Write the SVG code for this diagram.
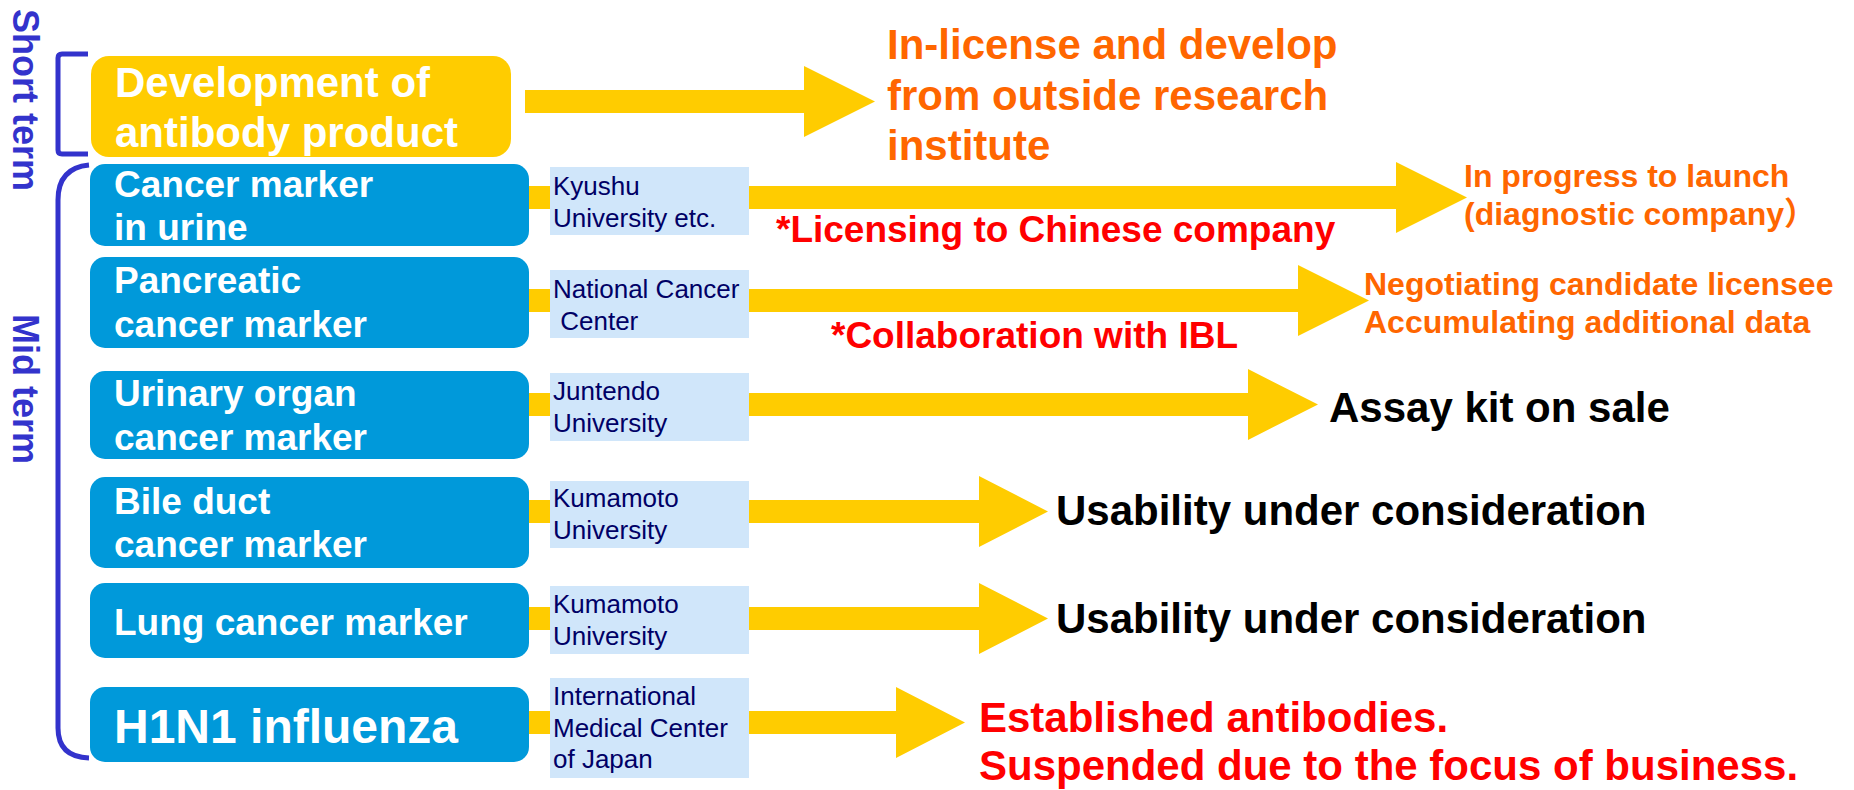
<svg xmlns="http://www.w3.org/2000/svg" width="1854" height="790" viewBox="0 0 1854 790">
<style>
text{font-family:"Liberation Sans",Arial,sans-serif}
.term{font-size:36px;font-weight:bold;fill:#3333CC}
.brk{fill:none;stroke:#3333CC;stroke-width:5}
.dev{fill:#FFCC00}
.blue{fill:#0099DA}
.lb{fill:#D0E6FA}
.wt{fill:#fff;font-weight:bold;font-size:37px}
.inst{fill:#000066;font-size:26px}
.arr{fill:#FFCC00}
.or{fill:#FF6600;font-weight:bold}
.rd{fill:#FF0000;font-weight:bold}
.bk{fill:#000;font-weight:bold;font-size:42px}
</style>
<rect width="1854" height="790" fill="#fff"/>
<g id="labels">
<text class="term" transform="translate(13,100) rotate(90)" text-anchor="middle">Short term</text>
<text class="term" transform="translate(13,389) rotate(90)" text-anchor="middle">Mid term</text>
<path class="brk" d="M88 54 L62 54 Q58 54 58 58 L58 150 Q58 154 62 154 L88 154"/>
<path class="brk" d="M89 165 Q58 168 58 200 L58 728 Q58 757 89 758"/>
</g>
<g id="connectors">
<polygon class="arr" points="525,90 804,90 804,66 875,101.5 804,137 804,113 525,113"/>
<polygon class="arr" points="510,186 1396,186 1396,162 1467,197.5 1396,233 1396,209 510,209"/>
<polygon class="arr" points="510,289 1298,289 1298,265 1369,300.5 1298,336 1298,312 510,312"/>
<polygon class="arr" points="510,393 1248,393 1248,369 1318,404.5 1248,440 1248,416 510,416"/>
<polygon class="arr" points="510,500 979,500 979,476 1048,511.5 979,547 979,523 510,523"/>
<polygon class="arr" points="510,607 979,607 979,583 1048,618.5 979,654 979,630 510,630"/>
<polygon class="arr" points="510,711 896,711 896,687 965,722.5 896,758 896,734 510,734"/>
</g>
<g id="dev">
<rect class="dev" x="91" y="56" width="420" height="101" rx="18"/>
<text class="wt" style="font-size:42px" x="115" y="97">Development of</text>
<text class="wt" style="font-size:42px" x="115" y="147">antibody product</text>
</g>
<g id="dev-result">
<text class="or" style="font-size:42px" x="887" y="59">In-license and develop</text>
<text class="or" style="font-size:42px" x="887" y="109.5">from outside research</text>
<text class="or" style="font-size:42px" x="887" y="160">institute</text>
</g>
<g id="urine">
<rect class="blue" x="90" y="164" width="439" height="82" rx="15"/>
<text class="wt" x="114" y="197">Cancer marker</text>
<text class="wt" x="114" y="240">in urine</text>
</g>
<g id="kyushu">
<rect class="lb" x="550" y="167" width="199" height="68"/>
<text class="inst" x="553" y="195">Kyushu</text>
<text class="inst" x="553" y="227">University etc.</text>
</g>
<g id="urine-result">
<text class="rd" style="font-size:37px" x="776" y="242">*Licensing to Chinese company</text>
<text class="or" style="font-size:32px" x="1464" y="187">In progress to launch</text>
<text class="or" style="font-size:32px" x="1464" y="225">(diagnostic company<tspan font-family="'Noto Sans CJK JP',sans-serif">）</tspan></text>
</g>
<g id="pancreatic">
<rect class="blue" x="90" y="257" width="439" height="91" rx="15"/>
<text class="wt" x="114" y="293">Pancreatic</text>
<text class="wt" x="114" y="337">cancer marker</text>
</g>
<g id="ncc">
<rect class="lb" x="550" y="270" width="199" height="68"/>
<text class="inst" x="553" y="298">National Cancer</text>
<text class="inst" x="553" y="330" xml:space="preserve"> Center</text>
</g>
<g id="pancreatic-result">
<text class="rd" style="font-size:37px" x="831" y="348">*Collaboration with IBL</text>
<text class="or" style="font-size:32px" x="1364" y="295">Negotiating candidate licensee</text>
<text class="or" style="font-size:32px" x="1364" y="333">Accumulating additional data</text>
</g>
<g id="urinary">
<rect class="blue" x="90" y="371" width="439" height="88" rx="15"/>
<text class="wt" x="114" y="406">Urinary organ</text>
<text class="wt" x="114" y="450">cancer marker</text>
</g>
<g id="juntendo">
<rect class="lb" x="550" y="373" width="199" height="68"/>
<text class="inst" x="553" y="400">Juntendo</text>
<text class="inst" x="553" y="432">University</text>
</g>
<g id="urinary-result">
<text class="bk" x="1329" y="422">Assay kit on sale</text>
</g>
<g id="bile">
<rect class="blue" x="90" y="477" width="439" height="91" rx="15"/>
<text class="wt" x="114" y="514">Bile duct</text>
<text class="wt" x="114" y="557">cancer marker</text>
</g>
<g id="kumamoto1">
<rect class="lb" x="550" y="481" width="199" height="67"/>
<text class="inst" x="553" y="507">Kumamoto</text>
<text class="inst" x="553" y="539">University</text>
</g>
<g id="bile-result">
<text class="bk" x="1056" y="525">Usability under consideration</text>
</g>
<g id="lung">
<rect class="blue" x="90" y="583" width="439" height="75" rx="15"/>
<text class="wt" x="114" y="635">Lung cancer marker</text>
</g>
<g id="kumamoto2">
<rect class="lb" x="550" y="586" width="199" height="68"/>
<text class="inst" x="553" y="613">Kumamoto</text>
<text class="inst" x="553" y="645">University</text>
</g>
<g id="lung-result">
<text class="bk" x="1056" y="633">Usability under consideration</text>
</g>
<g id="h1n1">
<rect class="blue" x="90" y="687" width="439" height="75" rx="15"/>
<text class="wt" style="font-size:48px" x="114" y="743">H1N1 influenza</text>
</g>
<g id="imcj">
<rect class="lb" x="550" y="678" width="199" height="100"/>
<text class="inst" x="553" y="705">International</text>
<text class="inst" x="553" y="737">Medical Center</text>
<text class="inst" x="553" y="768">of Japan</text>
</g>
<g id="h1n1-result">
<text class="rd" style="font-size:42px" x="979" y="732">Established antibodies.</text>
<text class="rd" style="font-size:42px" x="979" y="780">Suspended due to the focus of business.</text>
</g>
</svg>
